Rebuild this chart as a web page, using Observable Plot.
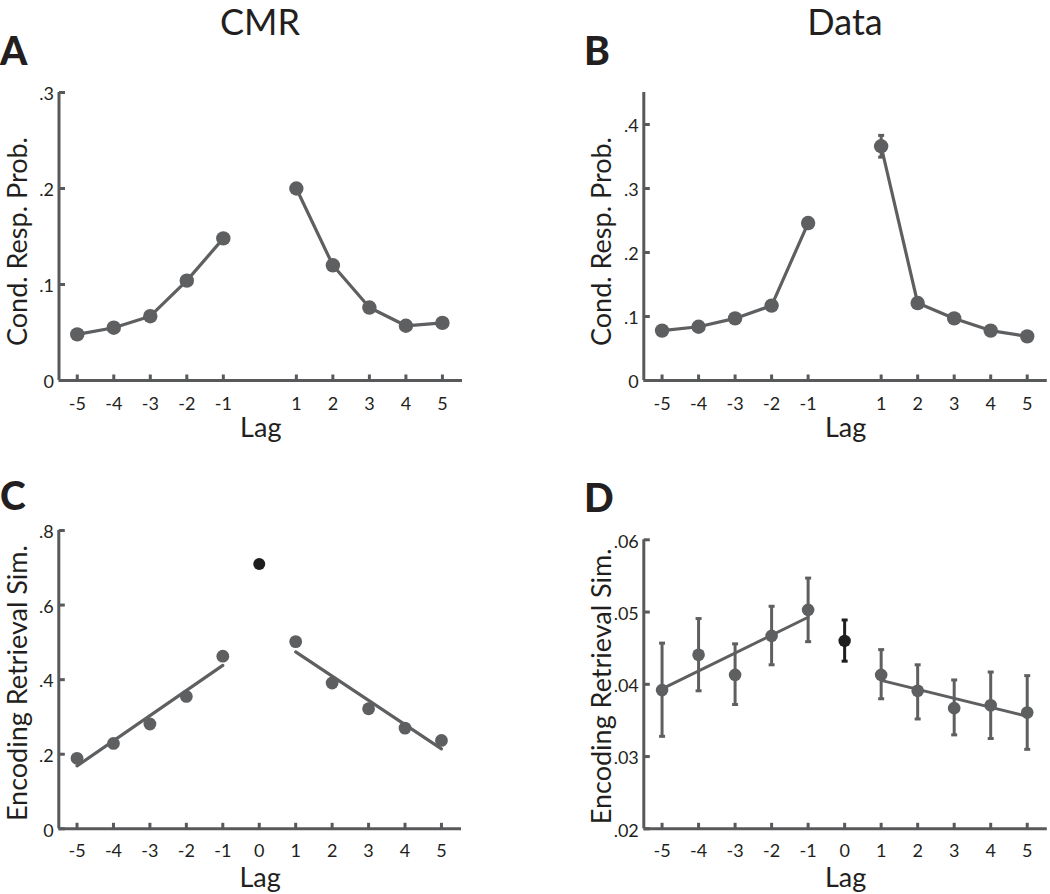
<!DOCTYPE html>
<html>
<head>
<meta charset="utf-8">
<script src="https://cdn.jsdelivr.net/npm/d3@7"></script>
<script src="https://cdn.jsdelivr.net/npm/@observablehq/plot@0.6"></script>
<style>
  html, body { margin: 0; padding: 0; background: #fff; }
  #root { position: relative; width: 1050px; height: 894px; overflow: hidden; font-family: Lato, "Open Sans", sans-serif; color: #231f20; }
  .panel { position: absolute; }
  .title { position: absolute; font-size: 36px; line-height: 1.2; text-align: center; width: 300px; }
  .letter { position: absolute; font-size: 39px; font-weight: 900; line-height: 1; }
</style>
</head>
<body>
<div id="root">
  <div class="title" style="left:110px; top:0px;">CMR</div>
  <div class="title" style="left:695px; top:0px;">Data</div>
  <div class="letter" style="left:0px; top:31px;">A</div>
  <div class="letter" style="left:584px; top:31px;">B</div>
  <div class="letter" style="left:0px; top:476px;">C</div>
  <div class="letter" style="left:584px; top:478px;">D</div>
</div>
<script>
// ---------- data ----------
const lagsAB = [-5, -4, -3, -2, -1, 1, 2, 3, 4, 5];
const crpCMR = [0.048, 0.055, 0.067, 0.104, 0.148, 0.200, 0.120, 0.076, 0.057, 0.060];
const crpData = [0.078, 0.084, 0.097, 0.117, 0.246, 0.366, 0.121, 0.097, 0.078, 0.069];
const crpDataErr = [0.003, 0.003, 0.003, 0.004, 0.006, 0.017, 0.005, 0.003, 0.003, 0.003];

const lagsCD = [-5, -4, -3, -2, -1, 0, 1, 2, 3, 4, 5];
const ersCMR = [0.189, 0.229, 0.281, 0.355, 0.463, 0.710, 0.502, 0.391, 0.322, 0.270, 0.237];
const ersData = [0.0392, 0.0441, 0.0413, 0.0467, 0.0503, 0.0460, 0.0413, 0.0391, 0.0367, 0.0371, 0.0361];
const ersDataLo = [0.0328, 0.0391, 0.0372, 0.0427, 0.0459, 0.0432, 0.0380, 0.0352, 0.0330, 0.0325, 0.0310];
const ersDataHi = [0.0457, 0.0491, 0.0456, 0.0508, 0.0547, 0.0489, 0.0448, 0.0427, 0.0406, 0.0417, 0.0412];

const xDomain = [-5.5, 5.55];
const yDomainA = [0, 0.3], yTicksA = [0, 0.1, 0.2, 0.3];
const yDomainB = [0, 0.45], yTicksB = [0, 0.1, 0.2, 0.3, 0.4];
const yDomainC = [0, 0.8], yTicksC = [0, 0.2, 0.4, 0.6, 0.8];
const yDomainD = [0.02, 0.06], yTicksD = [0.02, 0.03, 0.04, 0.05, 0.06];

const titleCRP = "Cond. Resp. Prob.";
const titleERS = "Encoding Retrieval Sim.";
const titleLag = "Lag";

// ---------- styles ----------
const GRAY = "#5e5f61";
const BLACK = "#1e1e1e";
const AXIS = "#58595b";
const TEXT = "#231f20";

const dataA = lagsAB.map((lag, i) => ({lag, y: crpCMR[i], side: lag < 0 ? "neg" : "pos"}));
const dataB = lagsAB.map((lag, i) => ({lag, y: crpData[i], lo: crpData[i] - crpDataErr[i], hi: crpData[i] + crpDataErr[i], side: lag < 0 ? "neg" : "pos"}));
const dataC = lagsCD.map((lag, i) => ({lag, y: ersCMR[i], side: lag < 0 ? "neg" : lag > 0 ? "pos" : "zero"}));
const dataD = lagsCD.map((lag, i) => ({lag, y: ersData[i], lo: ersDataLo[i], hi: ersDataHi[i], side: lag < 0 ? "neg" : lag > 0 ? "pos" : "zero"}));

// custom symbols: error-bar cap, and inward axis ticks
const capSymbol = { draw(ctx) { ctx.moveTo(-3, 0); ctx.lineTo(3, 0); } };
const tickUp = { draw(ctx) { ctx.moveTo(0, 0); ctx.lineTo(0, -6); } };
const tickRight = { draw(ctx) { ctx.moveTo(0, 0); ctx.lineTo(6, 0); } };

function fmtY(dec) {
  const f = d3.format("." + dec + "f");
  return d => d === 0 ? "0" : f(d).replace(/^0\./, ".");
}

function axes({xTicks, yTicks, yDomain, dec, yTitle, yTitleDx, yTitleDy, lagDy, xPad}) {
  return [
    Plot.ruleY([yDomain[0]], {stroke: AXIS, strokeWidth: 3}),
    Plot.ruleX([xDomain[0]], {stroke: AXIS, strokeWidth: 3}),
    // inward tick marks
    Plot.dot(xTicks, {x: d => d, y: () => yDomain[0], symbol: tickUp, stroke: AXIS, strokeWidth: 3, fill: "none"}),
    Plot.dot(yTicks, {x: () => xDomain[0], y: d => d, symbol: tickRight, stroke: AXIS, strokeWidth: 3, fill: "none"}),
    // tick labels
    Plot.axisX(xTicks, {tickSize: 0, tickPadding: xPad, fill: TEXT, fontSize: 18, tickFormat: d => String(d), label: null}),
    Plot.axisY(yTicks, {tickSize: 0, tickPadding: 5, fill: TEXT, fontSize: 18, dy: 2, tickFormat: fmtY(dec), label: null}),
    // axis titles
    Plot.text([titleLag], {frameAnchor: "bottom", textAnchor: "middle", lineAnchor: "middle", dy: lagDy, fontSize: 27, fill: TEXT, text: d => d}),
    Plot.text([yTitle], {frameAnchor: "left", textAnchor: "middle", lineAnchor: "middle", rotate: -90, dx: yTitleDx, dy: yTitleDy, fontSize: 27, fill: TEXT, text: d => d})
  ];
}

function place(chart, left, top) {
  chart.classList.add("panel");
  chart.style.left = left + "px";
  chart.style.top = top + "px";
  document.getElementById("root").appendChild(chart);
}

const common = {width: 525, style: {fontFamily: "Lato, 'Open Sans', sans-serif", background: "transparent", overflow: "visible", color: TEXT}};

// Panel A
place(Plot.plot({
  ...common, height: 390, marginTop: 32, marginBottom: 70, marginLeft: 58.5, marginRight: 63,
  x: {domain: xDomain}, y: {domain: yDomainA},
  marks: [
    ...axes({xTicks: lagsAB, yTicks: yTicksA, yDomain: yDomainA, dec: 1, yTitle: titleCRP, yTitleDx: -41, yTitleDy: 5, lagDy: 48, xPad: 17}),
    Plot.line(dataA, {x: "lag", y: "y", z: "side", stroke: GRAY, strokeWidth: 3.2}),
    Plot.dot(dataA, {x: "lag", y: "y", r: 7.2, fill: GRAY})
  ]
}), 0, 60);

// Panel B
place(Plot.plot({
  ...common, height: 390, marginTop: 32, marginBottom: 70, marginLeft: 118.3, marginRight: 3.2,
  x: {domain: xDomain}, y: {domain: yDomainB},
  marks: [
    ...axes({xTicks: lagsAB, yTicks: yTicksB, yDomain: yDomainB, dec: 1, yTitle: titleCRP, yTitleDx: -41, yTitleDy: 5, lagDy: 48, xPad: 17}),
    Plot.ruleX(dataB, {x: "lag", y1: "lo", y2: "hi", stroke: GRAY, strokeWidth: 3}),
    Plot.dot(dataB, {x: "lag", y: "lo", symbol: capSymbol, stroke: GRAY, strokeWidth: 3, fill: "none"}),
    Plot.dot(dataB, {x: "lag", y: "hi", symbol: capSymbol, stroke: GRAY, strokeWidth: 3, fill: "none"}),
    Plot.line(dataB, {x: "lag", y: "y", z: "side", stroke: GRAY, strokeWidth: 3.2}),
    Plot.dot(dataB, {x: "lag", y: "y", r: 7.2, fill: GRAY})
  ]
}), 525, 60);

// Panel C
const dataCside = dataC.filter(d => d.side !== "zero");
const dataCzero = dataC.filter(d => d.side === "zero");
place(Plot.plot({
  ...common, height: 404, marginTop: 40, marginBottom: 65.7, marginLeft: 58.3, marginRight: 64,
  x: {domain: xDomain}, y: {domain: yDomainC},
  marks: [
    ...axes({xTicks: lagsCD, yTicks: yTicksC, yDomain: yDomainC, dec: 1, yTitle: titleERS, yTitleDx: -40.5, yTitleDy: 3.5, lagDy: 50, xPad: 15.5}),
    Plot.linearRegressionY(dataCside, {x: "lag", y: "y", z: "side", ci: 0, stroke: GRAY, strokeWidth: 3.2}),
    Plot.dot(dataCside, {x: "lag", y: "y", r: 6.4, fill: GRAY}),
    Plot.dot(dataCzero, {x: "lag", y: "y", r: 6, fill: BLACK})
  ]
}), 0, 490);

// Panel D
const dataDside = dataD.filter(d => d.side !== "zero");
const dataDzero = dataD.filter(d => d.side === "zero");
place(Plot.plot({
  ...common, height: 404, marginTop: 49.3, marginBottom: 65.7, marginLeft: 118.3, marginRight: 3.2,
  x: {domain: xDomain}, y: {domain: yDomainD},
  marks: [
    ...axes({xTicks: lagsCD, yTicks: yTicksD, yDomain: yDomainD, dec: 2, yTitle: titleERS, yTitleDx: -41, yTitleDy: 2, lagDy: 50, xPad: 15.5}),
    Plot.ruleX(dataDside, {x: "lag", y1: "lo", y2: "hi", stroke: GRAY, strokeWidth: 3}),
    Plot.dot(dataDside, {x: "lag", y: "lo", symbol: capSymbol, stroke: GRAY, strokeWidth: 3, fill: "none"}),
    Plot.dot(dataDside, {x: "lag", y: "hi", symbol: capSymbol, stroke: GRAY, strokeWidth: 3, fill: "none"}),
    Plot.ruleX(dataDzero, {x: "lag", y1: "lo", y2: "hi", stroke: BLACK, strokeWidth: 3}),
    Plot.dot(dataDzero, {x: "lag", y: "lo", symbol: capSymbol, stroke: BLACK, strokeWidth: 3, fill: "none"}),
    Plot.dot(dataDzero, {x: "lag", y: "hi", symbol: capSymbol, stroke: BLACK, strokeWidth: 3, fill: "none"}),
    Plot.linearRegressionY(dataDside, {x: "lag", y: "y", z: "side", ci: 0, stroke: GRAY, strokeWidth: 3}),
    Plot.dot(dataDside, {x: "lag", y: "y", r: 6.3, fill: GRAY}),
    Plot.dot(dataDzero, {x: "lag", y: "y", r: 6.2, fill: BLACK})
  ]
}), 525, 490);
</script>
</body>
</html>
